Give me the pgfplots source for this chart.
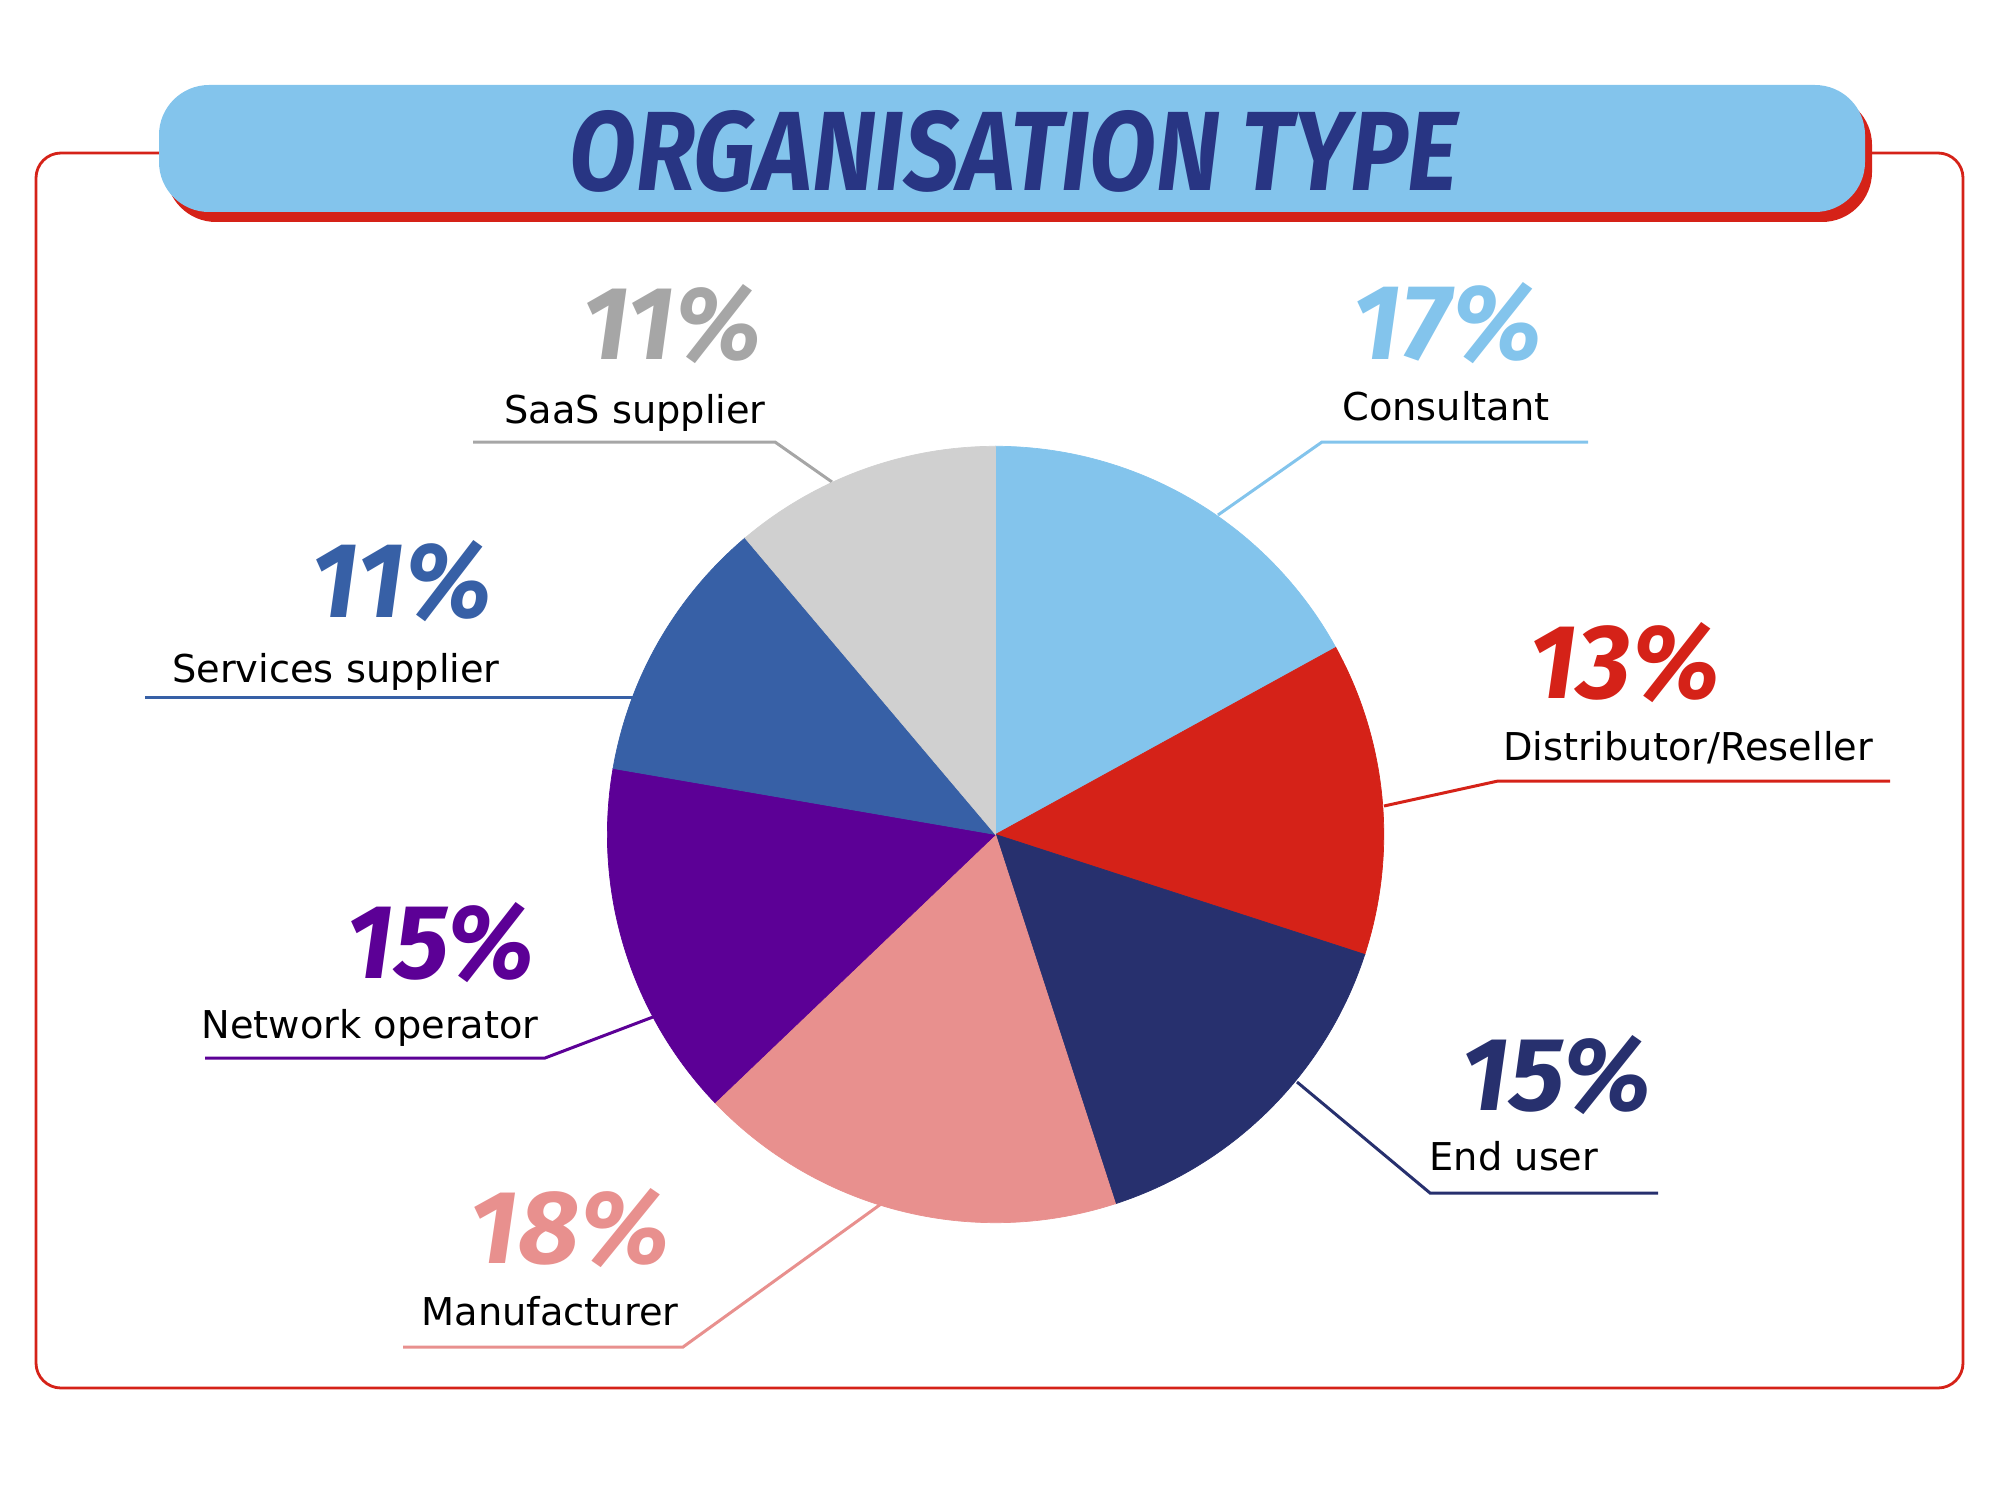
\documentclass[border=0pt]{standalone}
\usepackage{pgfplots}
\pgfplotsset{compat=1.18}
\usepgfplotslibrary{polar}
\usepackage{fontspec}
\setmainfont{DejaVu Sans}
\newfontfamily\bigfont{Fira Sans}
\definecolor{cConsult}{HTML}{83C4EC}
\definecolor{cDist}{HTML}{D52218}
\definecolor{cEnd}{HTML}{27306E}
\definecolor{cManu}{HTML}{E8908E}
\definecolor{cNet}{HTML}{5C0096}
\definecolor{cServ}{HTML}{3760A6}
\definecolor{cSaaS}{HTML}{D0D0D0}
\definecolor{cSaaSdark}{HTML}{A6A6A6}
\definecolor{cTitle}{HTML}{283583}
\definecolor{cFrame}{HTML}{D52218}
\newcommand{\pct}[3]{\resizebox{#1cm}{#2cm}{\bigfont\bfseries\itshape #3}}
\begin{document}
\begin{tikzpicture}
\begin{scope}[x=0.01cm,y=-0.01cm]
\path[use as bounding box] (0,0) rectangle (2000,1500);
% frame
\draw[cFrame, line width=0.028cm, rounded corners=0.25cm] (36,153) rectangle (1963,1388);
% banner
\fill[cFrame, rounded corners=0.5cm] (166,95) rectangle (1872,222);
\fill[cConsult, rounded corners=0.5cm] (159,85) rectangle (1865,212);
\node[anchor=base, inner sep=0, text=cTitle] at (1014,191)
  {\resizebox{8.88cm}{0.80cm}{\bigfont\bfseries\itshape ORGANISATION TYPE}};
% leader lines
\begin{scope}[line width=0.03cm]
\draw[cSaaSdark] (473,442) -- (775,442) -- (832,482);
\draw[cConsult] (1588,442) -- (1322,442) -- (1218,515);
\draw[cServ] (145,697) -- (640,697);
\draw[cDist] (1890,781) -- (1498,781) -- (1384,806);
\draw[cNet] (205,1058) -- (545,1058) -- (653,1017);
\draw[cEnd] (1658,1193) -- (1430,1193) -- (1297,1082);
\draw[cManu] (403,1347) -- (683,1347) -- (881,1204);
\end{scope}
\end{scope}
% pie: shares 17,13,15,18,15,11,11 % clockwise from the top
\begin{polaraxis}[at={(9.95cm,-8.34cm)}, anchor=center, width=7.76cm, height=7.76cm,
  scale only axis, hide axis, ymin=0, ymax=1, xmin=0, xmax=360, clip=false]
\addplot[fill=cConsult, draw=cConsult, line width=0.2pt, domain=28.8:90, samples=60] {1} -- (axis cs:0,0) -- cycle;   % 17
\addplot[fill=cDist, draw=cDist, line width=0.2pt, domain=-18:28.8, samples=60] {1} -- (axis cs:0,0) -- cycle;      % 13
\addplot[fill=cEnd, draw=cEnd, line width=0.2pt, domain=-72:-18, samples=60] {1} -- (axis cs:0,0) -- cycle;         % 15
\addplot[fill=cManu, draw=cManu, line width=0.2pt, domain=-136.3:-72, samples=60] {1} -- (axis cs:0,0) -- cycle;    % 18
\addplot[fill=cNet, draw=cNet, line width=0.2pt, domain=170.2:223.7, samples=60] {1} -- (axis cs:0,0) -- cycle;     % 15
\addplot[fill=cServ, draw=cServ, line width=0.2pt, domain=130.2:170.2, samples=60] {1} -- (axis cs:0,0) -- cycle;   % 11
\addplot[fill=cSaaS, draw=cSaaS, line width=0.2pt, domain=90:130.2, samples=60] {1} -- (axis cs:0,0) -- cycle;      % 11
\end{polaraxis}
\begin{scope}[x=0.01cm,y=-0.01cm]
% percentages
\node[anchor=base, inner sep=0, text=cSaaSdark] at (672,360) {\pct{1.79}{0.75}{11\%}};
\node[anchor=base, inner sep=0, text=cConsult] at (1448,360) {\pct{1.90}{0.77}{17\%}};
\node[anchor=base, inner sep=0, text=cServ] at (402,617) {\pct{1.80}{0.77}{11\%}};
\node[anchor=base, inner sep=0, text=cDist] at (1625,698) {\pct{1.90}{0.76}{13\%}};
\node[anchor=base, inner sep=0, text=cNet] at (441,978) {\pct{1.88}{0.76}{15\%}};
\node[anchor=base, inner sep=0, text=cEnd] at (1557,1110) {\pct{1.90}{0.75}{15\%}};
\node[anchor=base, inner sep=0, text=cManu] at (570,1263) {\pct{2.00}{0.75}{18\%}};
% category labels
\begin{scope}[every node/.style={anchor=base, inner sep=0, font=\fontsize{10.9pt}{12pt}\selectfont}]
\node at (635,423) {SaaS supplier};
\node at (1446,420) {Consultant};
\node at (336,682) {Services supplier};
\node at (1688,760) {Distributor/Reseller};
\node at (370,1038) {Network operator};
\node at (1514,1170) {End user};
\node at (550,1325) {Manufacturer};
\end{scope}
\end{scope}
\end{tikzpicture}
\end{document}
